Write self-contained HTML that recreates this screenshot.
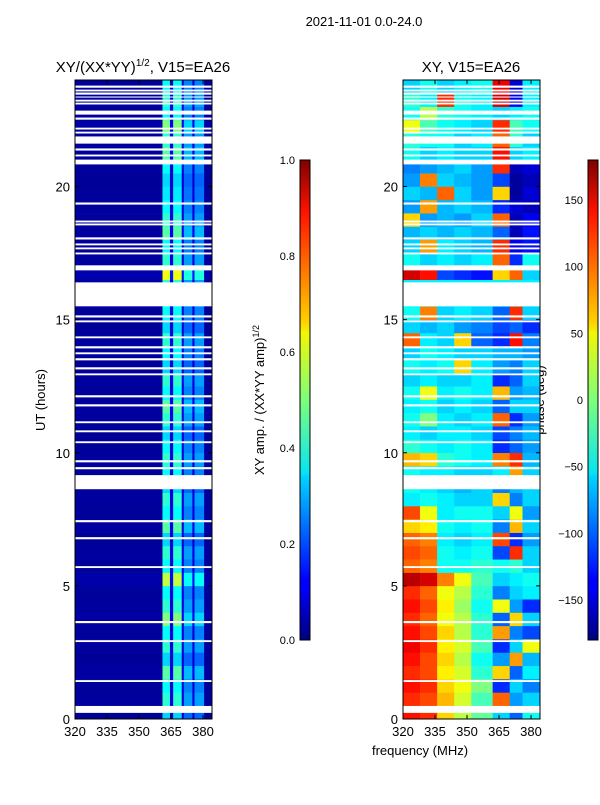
<!DOCTYPE html>
<html><head><meta charset="utf-8">
<style>
body{margin:0;background:#fff;width:600px;height:800px;overflow:hidden;font-family:"Liberation Sans",sans-serif;}
svg text{font-family:"Liberation Sans",sans-serif;fill:#000;}
</style></head>
<body>
<svg id="fig" width="600" height="800" viewBox="0 0 600 800" xmlns="http://www.w3.org/2000/svg">
<text x="364" y="26" font-size="13" text-anchor="middle">2021-11-01 0.0-24.0</text>
<text x="143" y="72" font-size="15" text-anchor="middle">XY/(XX*YY)<tspan font-size="10" dy="-6">1/2</tspan><tspan dy="6">, V15=EA26</tspan></text>
<text x="471" y="72" font-size="15" text-anchor="middle">XY, V15=EA26</text>
<text x="45" y="400" font-size="13" text-anchor="middle" transform="rotate(-90 45 400)">UT (hours)</text>
<text x="420" y="755" font-size="13" text-anchor="middle">frequency (MHz)</text>
<text x="264" y="400" font-size="13" text-anchor="middle" transform="rotate(-90 264 400)">XY amp. / (XX*YY amp)<tspan font-size="9" dy="-5">1/2</tspan></text>
<text x="544" y="400" font-size="13" text-anchor="middle" transform="rotate(-90 544 400)">phase (deg)</text>
<defs>
<linearGradient id="jet" x1="0" y1="1" x2="0" y2="0">
<stop offset="0" stop-color="#00007f"/><stop offset="0.11" stop-color="#0000ff"/><stop offset="0.125" stop-color="#0000ff"/>
<stop offset="0.34" stop-color="#00d4ff"/><stop offset="0.35" stop-color="#0ae4f0"/><stop offset="0.5" stop-color="#7dff7a"/>
<stop offset="0.64" stop-color="#f0f706"/><stop offset="0.66" stop-color="#ffd200"/><stop offset="0.89" stop-color="#ff1300"/><stop offset="1" stop-color="#7f0000"/>
</linearGradient>
</defs>
<g id="ampPanel"></g>
<g id="phasePanel"></g>
<g id="axes"></g>
<rect x="300" y="160" width="10" height="480" fill="url(#jet)" stroke="#000" stroke-width="1"/>
<rect x="588" y="160" width="10" height="480" fill="url(#jet)" stroke="#000" stroke-width="1"/>
</svg>
<script>
const xTicks=[320,335,350,365,380];
const yTicks=[0,5,10,15,20];
const ampTicks=[0.0,0.2,0.4,0.6,0.8,1.0];
const phaseTicks=[-150,-100,-50,0,50,100,150];
const ampFreqEdges=[320,361,364.5,366,370,371,375,376,380.5,384.2];
const ampBandValues=[0.03,0.42,0.1,0.42,0.1,0.28,0.1,0.28,0.03];
const ampRowScale=[0.8,1.0,0.9,1.1,0.8,1.0,0.9,1.2,1.0,0.9,1.35,0.9,1.0,0.8,1.1,0.9,1.0,0.8,0.9,1.0,0.9,0.8,1.0,1.1,0.9,1.0,0.8,0.9,1.0,0.8,0.9,1.0,1.0,1.45,1.0,0.9,1.1,1.0,0.9,0.85,0.8,0.9,1.1,1.0,1.2,0.9,1.0,0.9];
const phaseFreqEdges=[320,328,336,344,352,362,370,376,384.2];
const phaseRows=[
[130,120,60,20,-10,-60,-100,-40],[120,110,70,30,-20,100,-80,-60],[130,120,60,40,0,-120,-60,-90],[120,110,50,30,-30,60,-100,-50],
[130,110,60,20,-40,-80,80,-70],[140,120,50,30,-20,-120,-60,40],[130,110,60,20,-30,80,-90,-110],[120,100,40,20,-30,-100,60,-60],
[130,110,50,10,-40,40,-80,-120],[120,100,40,20,-30,-90,-60,-50],[160,150,90,40,-20,-60,-50,-40],[100,90,-40,-40,-30,-40,-30,-60],
[110,100,-40,-50,-40,-110,120,-60],[100,90,-50,-60,-50,110,-120,-80],[60,50,-40,-50,-40,-90,70,-60],[110,40,-50,-40,-40,-60,40,-80],
[-50,-40,-50,-60,-60,60,-90,-60],[-40,-50,-60,-70,-60,-90,-70,-60],[-40,-50,-50,-60,-60,-50,80,-60],[70,60,-30,-40,-50,90,120,-70],
[-30,-40,-50,-40,-50,-120,-100,-80],[-50,-60,-50,-50,-60,-110,-90,-70],[-40,0,-50,-60,-50,100,-120,-80],[-50,-40,-60,-50,-60,-100,-60,-60],
[-40,40,-50,-40,-50,70,-80,-70],[-60,-50,-60,-60,-50,-120,-100,-60],[-40,-50,-40,60,-50,-80,-90,-60],[-60,-40,-50,-60,-60,-70,-70,-80],
[100,-50,-60,60,-100,-120,130,-90],[-60,-70,-60,-80,-90,-110,-100,-120],[-40,90,-60,-50,-60,-100,120,-60],[-50,-50,-50,-50,-50,-50,-50,-50],
[-50,-50,-50,-50,-50,-50,-50,-50],[150,130,-110,-120,-130,60,100,-60],[-40,-60,-50,-60,-50,100,-120,-40],[-60,80,-50,-60,-70,120,-140,-130],
[-70,-60,-70,-60,-70,-100,-160,-130],[60,-80,-70,-80,-60,100,-160,-140],[-80,80,-70,-60,-70,-120,-150,-160],[-60,-70,100,-60,-80,60,-170,-150],
[-80,90,-60,-70,-80,-110,-170,-160],[-90,-80,-70,-60,-80,120,-160,-150],[-40,-60,-50,-60,-60,130,-60,-50],[-30,-40,-40,-60,-50,100,-30,-60],
[40,-20,-40,-50,-60,120,-20,-40],[-40,20,-30,-40,-50,-60,-50,-40],[-30,-50,120,-40,-50,150,-140,-50],[-60,-40,-60,-50,-40,140,-150,-50]];
const gapStarts=[0.23,1.39,2.89,3.60,5.67,6.75,7.39,8.63,9.38,9.64,10.36,10.77,11.11,11.74,12.08,12.91,13.13,13.47,13.70,13.92,14.30,14.90,15.08,15.50,16.85,17.45,17.64,17.79,18.01,18.54,18.65,19.32,20.83,21.13,21.35,21.61,21.99,22.14,22.51,22.70,23.08,23.19,23.34,23.45,23.57,23.71];
const gapEnds=[0.49,1.46,2.96,3.68,5.74,6.83,7.47,9.16,9.46,9.72,10.43,10.84,11.18,11.82,12.16,12.98,13.21,13.55,13.77,14.00,14.37,14.97,15.16,16.40,17.04,17.52,17.71,17.86,18.09,18.61,18.72,19.40,21.01,21.20,21.43,21.88,22.06,22.21,22.59,22.85,23.15,23.26,23.38,23.53,23.64,23.79];

const NS="http://www.w3.org/2000/svg";
const PY0=80,PY1=719,XMIN=320,XMAX=384.2,YMIN=0,YMAX=24;
const panels=[{x0:75,x1:212},{x0:403,x1:540}];
function xs(p,f){return p.x0+(f-XMIN)/(XMAX-XMIN)*(p.x1-p.x0);}
function ys(h){return PY1-(h-YMIN)/(YMAX-YMIN)*(PY1-PY0);}
function jet(v){v=Math.max(0,Math.min(1,v));
 const r=Math.max(0,Math.min(1,Math.min(4*v-1.5,-4*v+4.5)));
 const g=Math.max(0,Math.min(1,Math.min(4*v-0.5,-4*v+3.5)));
 const b=Math.max(0,Math.min(1,Math.min(4*v+0.5,-4*v+2.5)));
 return `rgb(${Math.round(r*255)},${Math.round(g*255)},${Math.round(b*255)})`;}
function mk(tag,parent,attrs){const e=document.createElementNS(NS,tag);for(const k in attrs)e.setAttribute(k,attrs[k]);parent.appendChild(e);return e;}
const ampG=document.getElementById('ampPanel'),phG=document.getElementById('phasePanel'),axG=document.getElementById('axes');
const rowH=0.5;
for(let i=0;i<ampRowScale.length;i++){
 for(let j=0;j<ampBandValues.length;j++){
  const p=panels[0];
  const xa=xs(p,ampFreqEdges[j]),xb=Math.min(xs(p,ampFreqEdges[j+1]),p.x1);
  const r=mk('rect',ampG,{x:xa,y:ys((i+1)*rowH),width:xb-xa+0.3,height:ys(i*rowH)-ys((i+1)*rowH)+0.3,fill:jet(ampBandValues[j]*ampRowScale[i])});
  
  
 }
}
for(let i=0;i<phaseRows.length;i++){
 for(let j=0;j<phaseRows[i].length;j++){
  const p=panels[1];
  const xa=xs(p,phaseFreqEdges[j]),xb=Math.min(xs(p,phaseFreqEdges[j+1]),p.x1);
  const r=mk('rect',phG,{x:xa,y:ys((i+1)*rowH),width:xb-xa+0.3,height:ys(i*rowH)-ys((i+1)*rowH)+0.3,fill:jet((phaseRows[i][j]+180)/360)});
  
  
 }
}
for(const p of panels){
 for(let k=0;k<gapStarts.length;k++){
  const r=mk('rect',axG,{x:p.x0,y:ys(gapEnds[k]),width:p.x1-p.x0,height:ys(gapStarts[k])-ys(gapEnds[k]),fill:'#fff'});
  
  
 }
}
panels.forEach((p,pi)=>{
 const fr=mk('rect',axG,{x:p.x0,y:PY0,width:p.x1-p.x0,height:PY1-PY0,fill:'none',stroke:'#000','stroke-width':1});
 
 
 xTicks.forEach(t=>{const x=xs(p,t);
  mk('line',axG,{x1:x,x2:x,y1:PY1,y2:PY1-4,stroke:'#000'});
  mk('line',axG,{x1:x,x2:x,y1:PY0,y2:PY0+4,stroke:'#000'});
  const tx=mk('text',axG,{x:x,y:PY1+17,'font-size':13,'text-anchor':'middle'});tx.textContent=t;
  
  });
 yTicks.forEach(t=>{const y=ys(t);
  mk('line',axG,{x1:p.x0,x2:p.x0+4,y1:y,y2:y,stroke:'#000'});
  mk('line',axG,{x1:p.x1,x2:p.x1-4,y1:y,y2:y,stroke:'#000'});
  const tx=mk('text',axG,{x:p.x0-5,y:y+5,'font-size':13,'text-anchor':'end'});tx.textContent=t;
  
  });
});
ampTicks.forEach(t=>{const y=640-t*480;
 mk('line',axG,{x1:300,x2:304,y1:y,y2:y,stroke:'#000'});
 const tx=mk('text',axG,{x:295,y:y+4,'font-size':11,'text-anchor':'end'});tx.textContent=t.toFixed(1);
 
 });
phaseTicks.forEach(t=>{const y=400-t*480/360;
 mk('line',axG,{x1:588,x2:592,y1:y,y2:y,stroke:'#000'});
 const tx=mk('text',axG,{x:583,y:y+4,'font-size':11,'text-anchor':'end'});tx.textContent=t<0?'\u2212'+(-t):t;
 
 });
</script>
</body></html>
